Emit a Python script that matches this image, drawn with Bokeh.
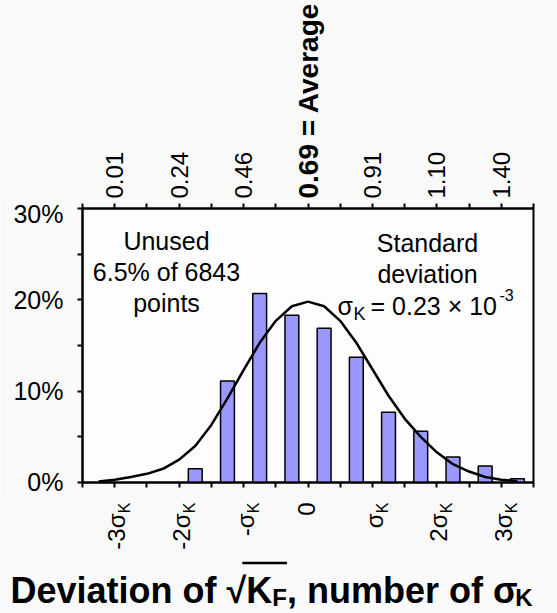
import math
from bokeh.plotting import figure
from bokeh.models import Label, LinearAxis, FixedTicker, BoxAnnotation, Range1d
from bokeh.layouts import column
from bokeh.embed import file_html
from bokeh.resources import INLINE

# ---------------- data ----------------
# histogram bins (in units of sigma_K), share of points (%)
bin_centers = [-1.75, -1.25, -0.75, -0.25, 0.25, 0.75, 1.25, 1.75, 2.25, 2.75, 3.25]
bar_pct = [1.5, 11.1, 20.7, 18.3, 16.9, 13.7, 7.7, 5.6, 2.8, 1.8, 0.4]
bin_width = 0.5

# fitted curve
curve_x = [-3.25, -3.0, -2.75, -2.5, -2.25, -2.0, -1.75, -1.5, -1.25, -1.0, -0.75, -0.5, -0.25,
           0.0, 0.25, 0.5, 0.75, 1.0, 1.25, 1.5, 1.75, 2.0, 2.25, 2.5, 2.75, 3.0, 3.25]
curve_pct = [0.1, 0.3, 0.6, 0.95, 1.5, 2.5, 4.0, 6.3, 9.2, 12.3, 15.3, 17.7, 19.3,
             19.8, 19.3, 17.7, 15.3, 12.4, 9.5, 7.0, 5.0, 3.3, 2.0, 1.2, 0.6, 0.3, 0.15]

sigma_ticks = [-3, -2, -1, 0, 1, 2, 3]
sigma_labels = ["-3σ", "-2σ", "-σ", "0", "σ", "2σ", "3σ"]
sigma_subs = ["K", "K", "K", "", "K", "K", "K"]
top_labels = ["0.01", "0.24", "0.46", "0.69 = Average", "0.91", "1.10", "1.40"]
y_ticks = [0, 10, 20, 30]
y_minor = [5, 15, 25]
y_tick_labels = ["0%", "10%", "20%", "30%"]

X_MIN, X_MAX = -3.5, 3.5
Y_MIN, Y_MAX = 0, 30

# ---------------- layout (page px) ----------------
PW, PH = 557, 613
FL, FR, FT, FB = 82, 533, 208, 482   # chart frame edges
TOP_H = 199                           # strip above the chart
BOT_Y = 495                           # strip below the chart starts here
FONT = "Liberation Sans"
BG = "#f9f9f9"


def px(x):
    return X_MIN + (x - FL) * (X_MAX - X_MIN) / (FR - FL)


def py(y):
    return Y_MIN + (FB - y) * (Y_MAX - Y_MIN) / (FB - FT)


def strip(y0, y1):
    f = figure(width=PW, height=y1 - y0, x_range=Range1d(px(0), px(PW)),
               y_range=Range1d(y1, y0), output_backend="svg", toolbar_location=None,
               x_axis_location=None, y_axis_location=None, frame_align=False,
               min_border_left=0, min_border_right=0, min_border_top=0, min_border_bottom=0,
               background_fill_color=BG, border_fill_color=BG)
    f.outline_line_color = None
    f.xgrid.visible = False
    f.ygrid.visible = False
    return f


def lab(fig, x, y, text, size, **kw):
    fig.add_layout(Label(x=x, y=y, text=text, text_font=FONT,
                         text_font_size=f"{size}px", text_color="black", **kw))


# ---------------- main chart ----------------
p = figure(width=PW, height=BOT_Y - TOP_H, x_range=(X_MIN, X_MAX), y_range=(Y_MIN, Y_MAX),
           output_backend="svg", toolbar_location=None, frame_align=False,
           x_axis_location=None,
           min_border_left=FL, min_border_right=PW - FR,
           min_border_top=FT - TOP_H, min_border_bottom=BOT_Y - FB,
           background_fill_color="#fdfdfd", border_fill_color=BG)
p.xgrid.visible = False
p.ygrid.visible = False
p.outline_line_color = "black"
p.outline_line_width = 2

edges = [X_MIN + bin_width * i for i in range(int(round((X_MAX - X_MIN) / bin_width)) + 1)]

for loc in ["below", "above"]:
    ax = LinearAxis(ticker=FixedTicker(ticks=edges, minor_ticks=[]),
                    major_label_text_color=None, major_label_text_font_size="1px",
                    major_label_standoff=0, axis_line_width=2, major_tick_line_width=2,
                    major_tick_out=5, major_tick_in=0)
    p.add_layout(ax, loc)

p.yaxis.ticker = FixedTicker(ticks=y_ticks, minor_ticks=y_minor)
p.yaxis.major_label_overrides = {t: s for t, s in zip(y_ticks, y_tick_labels)}
p.yaxis.major_label_text_font = FONT
p.yaxis.major_label_text_font_size = "25px"
p.yaxis.major_label_text_color = "black"
p.yaxis.axis_line_width = 2
p.yaxis.major_tick_line_width = 2
p.yaxis.minor_tick_line_width = 2
p.yaxis.major_tick_out = 5
p.yaxis.major_tick_in = 0
p.yaxis.minor_tick_out = 5
p.yaxis.minor_tick_in = 0
p.yaxis.major_label_standoff = 14

# bars
p.vbar(x=bin_centers, top=bar_pct, bottom=0, width=bin_width * 0.43,
       fill_color="#9999ff", line_color="black", line_width=1.5)

# curve
p.line(curve_x, curve_pct, line_color="black", line_width=2.5)

# annotations inside plot
for txt, yy in zip(["Unused", "6.5% of 6843", "points"], [240, 271, 302]):
    lab(p, px(166), py(yy), txt, 25, text_align="center", text_baseline="alphabetic")
for txt, yy in zip(["Standard", "deviation"], [242, 273]):
    lab(p, px(427), py(yy), txt, 25, text_align="center", text_baseline="alphabetic")
lab(p, px(337), py(305), "σ", 25, text_align="left", text_baseline="alphabetic")
lab(p, px(353), py(313), "K", 18, text_align="left", text_baseline="alphabetic")
lab(p, px(370), py(305), "= 0.23 × 10", 25, text_align="left", text_baseline="alphabetic")
lab(p, px(499), py(294), "-3", 16, text_align="left", text_baseline="alphabetic")

# ---------------- strip above: top axis values ----------------
top = strip(0, TOP_H)
for t, s in zip(sigma_ticks, top_labels):
    bold = "Average" in s
    lab(top, t, 198, s, 28 if bold else 24, angle=math.pi / 2, text_align="left",
        text_baseline="middle", text_font_style="bold" if bold else "normal")

# ---------------- strip below: sigma labels and title ----------------
bot = strip(BOT_Y, PH)
for t, s, sub in zip(sigma_ticks, sigma_labels, sigma_subs):
    if sub:
        lab(bot, t, 502, sub, 16, angle=math.pi / 2, text_align="right",
            text_baseline="middle", x_offset=10)
        lab(bot, t, 513, s, 24, angle=math.pi / 2, text_align="right",
            text_baseline="middle", x_offset=2)
    else:
        lab(bot, t, 502, s, 24, angle=math.pi / 2, text_align="right",
            text_baseline="middle", x_offset=-2)

AW = {"D": 722, "e": 556, "v": 556, "i": 278, "a": 556, "t": 333, "o": 611, "n": 611,
      " ": 278, "f": 333, "K": 722, "F": 611, ",": 278, "u": 611, "m": 889, "b": 611,
      "r": 389, "σ": 620, "√": 549}


def tw(s, size):
    return sum(AW.get(c, 600) for c in s) * size / 1000.0


TS = 36
SS = 24
base = 590
x0 = 10
parts = [("Deviation of ", TS, 0), ("√", TS, 0), ("K", TS, 0), ("F", SS, 7),
         (", number of ", TS, 0), ("σ", TS, 0), ("K", SS, 7)]
xc = x0
pos = {}
for i, (s, sz, dy) in enumerate(parts):
    lab(bot, px(xc), base + dy, s, sz, text_align="left", text_baseline="alphabetic",
        text_font_style="bold")
    pos[i] = (xc, xc + tw(s, sz))
    xc += tw(s, sz)

ol_left = pos[1][0] + tw("√", TS) * 0.8
ol_right = pos[3][1]
ol_y = base - TS * 0.8
bot.add_layout(BoxAnnotation(left=px(ol_left), right=px(ol_right), top=ol_y, bottom=ol_y + 2.5,
                             fill_color="black", fill_alpha=1.0, line_color=None))

layout = column(top, p, bot, spacing=0)
open("out.html", "w").write(file_html(layout, INLINE))
